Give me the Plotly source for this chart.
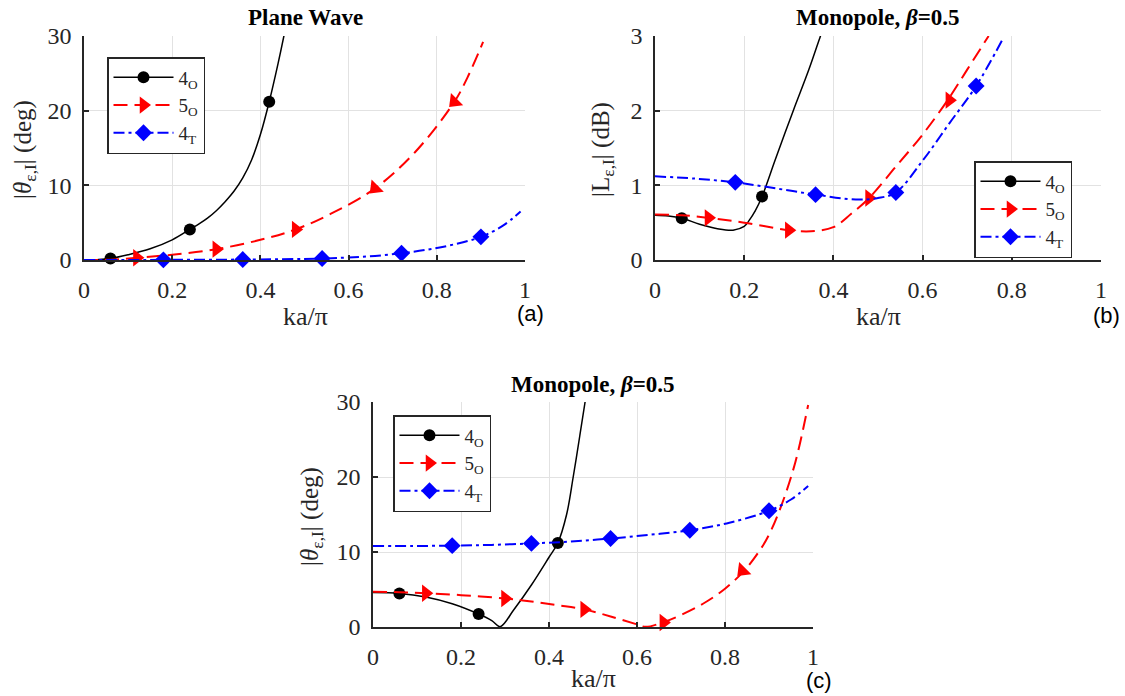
import plotly.graph_objects as go

# ---------------- data ----------------
# Panel (a): Plane Wave, |theta| (deg)
xa_4O = [0, 0.03, 0.06, 0.1, 0.15, 0.2, 0.24, 0.26, 0.28, 0.30, 0.32, 0.34, 0.36, 0.38, 0.40, 0.42, 0.44, 0.455, 0.465]
ya_4O = [0, 0.05, 0.2, 0.7, 1.5, 2.7, 4.1, 4.8, 5.6, 6.6, 7.8, 9.2, 11.0, 13.4, 16.8, 21.2, 26.3, 30.5, 33.5]
xa_5O = [0, 0.06, 0.12, 0.2, 0.3, 0.4, 0.48, 0.56, 0.66, 0.75, 0.84, 0.87, 0.905]
ya_5O = [0, 0.05, 0.3, 0.7, 1.45, 2.7, 4.1, 6.2, 9.6, 14.4, 21.2, 24.5, 29.2]
xa_4T = [0, 0.18, 0.36, 0.54, 0.6, 0.66, 0.72, 0.78, 0.84, 0.9, 0.95, 0.99]
ya_4T = [0, 0.02, 0.06, 0.2, 0.35, 0.55, 0.9, 1.4, 2.1, 3.1, 4.6, 6.5]
ma_4O_x = [0.06, 0.24, 0.42]
ma_4O_y = [0.2, 4.1, 21.2]
ma_5O_x = [0.12, 0.30, 0.48, 0.66, 0.84]
ma_5O_y = [0.3, 1.45, 4.1, 9.6, 21.2]
ma_5O_ang = [0, 0, 0, 135, 135]
ma_4T_x = [0.18, 0.36, 0.54, 0.72, 0.90]
ma_4T_y = [0.02, 0.06, 0.2, 0.9, 3.1]

# Panel (b): Monopole beta=0.5, |L| (dB)
xb_4O = [0, 0.03, 0.06, 0.1, 0.14, 0.175, 0.2, 0.21, 0.225, 0.24, 0.27, 0.31, 0.345, 0.371, 0.38]
yb_4O = [0.6, 0.59, 0.56, 0.48, 0.42, 0.40, 0.45, 0.52, 0.66, 0.85, 1.35, 2.0, 2.55, 3.0, 3.15]
xb_5O = [0, 0.06, 0.125, 0.2, 0.3, 0.35, 0.4, 0.44, 0.48, 0.54, 0.6, 0.656, 0.7, 0.748]
yb_5O = [0.61, 0.6, 0.56, 0.5, 0.40, 0.385, 0.44, 0.62, 0.83, 1.25, 1.68, 2.14, 2.55, 3.0]
xb_4T = [0, 0.09, 0.18, 0.27, 0.361, 0.45, 0.5, 0.54, 0.6, 0.66, 0.72, 0.778]
yb_4T = [1.12, 1.09, 1.04, 0.96, 0.875, 0.81, 0.83, 0.905, 1.33, 1.83, 2.33, 2.94]
mb_4O_x = [0.06, 0.24]
mb_4O_y = [0.56, 0.85]
mb_5O_x = [0.12, 0.30, 0.48, 0.66]
mb_5O_y = [0.565, 0.40, 0.83, 2.14]
mb_5O_ang = [0, 0, 0, 0]
mb_4T_x = [0.18, 0.36, 0.54, 0.72]
mb_4T_y = [1.04, 0.875, 0.905, 2.33]

# Panel (c): Monopole beta=0.5, |theta| (deg)
xc_4O = [0, 0.06, 0.12, 0.18, 0.24, 0.27, 0.289, 0.32, 0.36, 0.4, 0.42, 0.44, 0.455, 0.47, 0.482, 0.49]
yc_4O = [4.6, 4.48, 4.0, 3.1, 1.73, 0.85, 0.05, 2.3, 5.6, 9.3, 11.2, 15.0, 20.0, 25.5, 30.0, 33.0]
xc_5O = [0, 0.06, 0.12, 0.2, 0.3, 0.36, 0.42, 0.48, 0.54, 0.6, 0.62, 0.658, 0.7, 0.75, 0.8, 0.845, 0.88, 0.9, 0.93, 0.96, 0.989]
yc_5O = [4.7, 4.65, 4.5, 4.25, 3.8, 3.4, 2.9, 2.35, 1.4, 0.35, 0.02, 0.6, 1.6, 3.1, 5.1, 7.6, 10.3, 12.3, 16.5, 22.0, 29.6]
xc_4T = [0, 0.09, 0.182, 0.27, 0.362, 0.45, 0.54, 0.63, 0.72, 0.81, 0.9, 0.95, 0.989]
yc_4T = [10.8, 10.8, 10.85, 10.95, 11.15, 11.4, 11.8, 12.3, 12.9, 13.9, 15.5, 17.0, 18.8]
mc_4O_x = [0.06, 0.24, 0.42]
mc_4O_y = [4.48, 1.73, 11.2]
mc_5O_x = [0.12, 0.30, 0.48, 0.66, 0.84]
mc_5O_y = [4.5, 3.8, 2.35, 0.6, 7.5]
mc_5O_ang = [0, 0, 0, 0, 135]
mc_4T_x = [0.18, 0.36, 0.54, 0.72, 0.90]
mc_4T_y = [10.85, 11.15, 11.8, 12.9, 15.5]

series_names = ["4<sub>O</sub>", "5<sub>O</sub>", "4<sub>T</sub>"]
x_ticks = [0, 0.2, 0.4, 0.6, 0.8, 1]
x_ticklabels = ["0", "0.2", "0.4", "0.6", "0.8", "1"]

# ---------------- styling ----------------
SERIF = "Liberation Serif, Times New Roman, serif"
SANS = "Liberation Sans, Arial, sans-serif"
AX = "#262626"
GRID = "#e2e2e2"
colors = ["#000000", "#ff0000", "#0000ff"]
dashes = ["solid", "14px,7px", "11px,4px,3px,4px"]
widths = [1.5, 2, 2]
symbols = ["circle", "triangle-right", "diamond"]
msizes = [12, 15, 13]

fig = go.Figure()

panels = [
    dict(xs="x", ys="y", leg="legend",
         curves=[(xa_4O, ya_4O), (xa_5O, ya_5O), (xa_4T, ya_4T)],
         marks=[(ma_4O_x, ma_4O_y, None), (ma_5O_x, ma_5O_y, ma_5O_ang), (ma_4T_x, ma_4T_y, None)]),
    dict(xs="x2", ys="y2", leg="legend2",
         curves=[(xb_4O, yb_4O), (xb_5O, yb_5O), (xb_4T, yb_4T)],
         marks=[(mb_4O_x, mb_4O_y, None), (mb_5O_x, mb_5O_y, mb_5O_ang), (mb_4T_x, mb_4T_y, None)]),
    dict(xs="x3", ys="y3", leg="legend3",
         curves=[(xc_4O, yc_4O), (xc_5O, yc_5O), (xc_4T, yc_4T)],
         marks=[(mc_4O_x, mc_4O_y, None), (mc_5O_x, mc_5O_y, mc_5O_ang), (mc_4T_x, mc_4T_y, None)]),
]

for p in panels:
    for i in range(3):
        cx, cy = p["curves"][i]
        fig.add_trace(go.Scatter(
            x=cx, y=cy, xaxis=p["xs"], yaxis=p["ys"], mode="lines",
            line=dict(color=colors[i], dash=dashes[i], width=widths[i], shape="spline", smoothing=1.0),
            showlegend=False, hoverinfo="skip"))
        mx, my, ang = p["marks"][i]
        mk = dict(symbol=symbols[i], size=msizes[i], color=colors[i], line=dict(width=0))
        if ang is not None:
            mk["angle"] = ang
        fig.add_trace(go.Scatter(
            x=mx, y=my, xaxis=p["xs"], yaxis=p["ys"], mode="markers",
            marker=mk, cliponaxis=False, showlegend=False))
        # legend entry
        fig.add_trace(go.Scatter(
            x=[None], y=[None], xaxis=p["xs"], yaxis=p["ys"], mode="lines+markers",
            name=series_names[i], legend=p["leg"], legendgroup=p["leg"] + str(i),
            line=dict(color=colors[i], dash=dashes[i], width=widths[i]),
            marker=dict(symbol=symbols[i], size=msizes[i], color=colors[i])))

W, H = 1125, 696
def px_x(v):
    return v / W
def px_y(v):
    return 1 - v / H

dom = {
    "a": dict(x=[px_x(84), px_x(525)], y=[px_y(260), px_y(36)]),
    "b": dict(x=[px_x(655), px_x(1101)], y=[px_y(260), px_y(36)]),
    "c": dict(x=[px_x(373), px_x(813)], y=[px_y(627), px_y(402)]),
}

def xax(d, anchor):
    return dict(domain=d, anchor=anchor, range=[0, 1], tickvals=x_ticks, ticktext=x_ticklabels,
                showgrid=True, gridcolor=GRID, gridwidth=1, zeroline=False,
                showline=True, linecolor=AX, linewidth=1.5, ticks="inside", ticklen=5,
                tickcolor=AX, tickwidth=1.5, ticklabelstandoff=7,
                tickfont=dict(family=SERIF, size=24, color=AX), fixedrange=True)

def yax(d, anchor, rng, tv):
    return dict(domain=d, anchor=anchor, range=rng, tickvals=tv,
                showgrid=True, gridcolor=GRID, gridwidth=1, zeroline=False,
                showline=True, linecolor=AX, linewidth=1.5, ticks="inside", ticklen=5,
                tickcolor=AX, tickwidth=1.5, ticklabelstandoff=6,
                tickfont=dict(family=SERIF, size=24, color=AX), fixedrange=True)

leg_common = dict(font=dict(family=SERIF, size=19, color=AX), bordercolor=AX, borderwidth=1.5,
                  bgcolor="white", xanchor="left", yanchor="top", traceorder="grouped",
                  tracegroupgap=0, itemwidth=60)

fig.update_layout(
    width=W, height=H, margin=dict(l=0, r=0, t=0, b=0, pad=0, autoexpand=False),
    paper_bgcolor="white", plot_bgcolor="white",
    xaxis=xax(dom["a"]["x"], "y"), yaxis=yax(dom["a"]["y"], "x", [0, 30], [0, 10, 20, 30]),
    xaxis2=xax(dom["b"]["x"], "y2"), yaxis2=yax(dom["b"]["y"], "x2", [0, 3], [0, 1, 2, 3]),
    xaxis3=xax(dom["c"]["x"], "y3"), yaxis3=yax(dom["c"]["y"], "x3", [0, 30], [0, 10, 20, 30]),
    legend=dict(x=px_x(107), y=px_y(57), **leg_common),
    legend2=dict(x=px_x(974), y=px_y(161), **leg_common),
    legend3=dict(x=px_x(393), y=px_y(415), **leg_common),
)

ann = []
def text(x, y, t, size, family=SERIF, angle=0, color="black", xanchor="center"):
    ann.append(dict(x=px_x(x), y=px_y(y), xref="paper", yref="paper", text=t, showarrow=False,
                    font=dict(family=family, size=size, color=color), textangle=angle,
                    xanchor=xanchor, yanchor="middle"))

# titles
text(305, 17, "<b>Plane Wave</b>", 23)
text(878, 17, "<b>Monopole, <i>β</i>=0.5</b>", 23)
text(593, 384, "<b>Monopole, <i>β</i>=0.5</b>", 23)
# x labels
text(305, 316, "ka/π", 26, color=AX)
text(878, 316, "ka/π", 26, color=AX)
text(593, 678, "ka/π", 26, color=AX)
# y labels
text(25, 150, "|<i>θ</i><sub>ε,I</sub>| (deg)", 25, angle=-90, color=AX)
text(603, 150, "|L<sub>ε,I</sub>| (dB)", 25, angle=-90, color=AX)
text(311, 517, "|<i>θ</i><sub>ε,I</sub>| (deg)", 25, angle=-90, color=AX)
# panel tags
text(546, 313, "(a)", 22, family=SANS, xanchor="right")
text(1122, 315, "(b)", 22, family=SANS, xanchor="right")
text(834, 680, "(c)", 22, family=SANS, xanchor="right")

fig.update_layout(annotations=ann)
fig.write_html("out.html", config={"displayModeBar": False},
               post_script="document.body.style.margin='0';document.body.style.overflow='hidden';")
